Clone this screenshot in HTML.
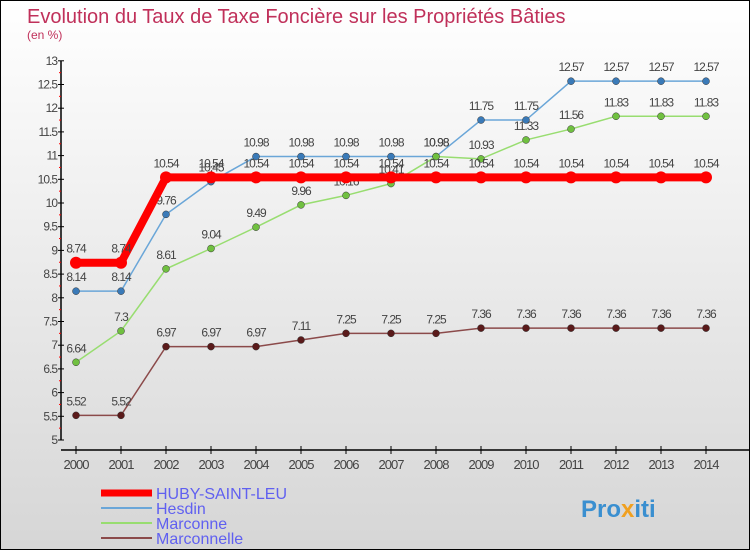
<!DOCTYPE html>
<html><head><meta charset="utf-8"><style>
html,body{margin:0;padding:0}
body{width:750px;height:550px;overflow:hidden;font-family:"Liberation Sans",sans-serif}
#wrap{position:absolute;left:0;top:0;width:748px;height:548px;border:1px solid #000;background:linear-gradient(#ffffff,#d6d6d6)}
</style></head><body>
<div id="wrap">
<svg id="chart" width="748" height="548" xmlns="http://www.w3.org/2000/svg">
<text x="26" y="22" font-size="20" fill="#c0305a">Evolution du Taux de Taxe Foncière sur les Propriétés Bâties</text>
<text x="26" y="38" font-size="12" fill="#c0305a">(en %)</text>
<g id="axes"></g><g id="series"></g><g id="legend"></g>
<text x="580" y="516" font-size="24" font-weight="bold" fill="#3a8fd0">Pro<tspan fill="#f0a020">x</tspan>iti</text>
</svg></div>
<script>
const years=[2000,2001,2002,2003,2004,2005,2006,2007,2008,2009,2010,2011,2012,2013,2014];
const yTicks=[5,5.5,6,6.5,7,7.5,8,8.5,9,9.5,10,10.5,11,11.5,12,12.5,13];
const seriesNames=["HUBY-SAINT-LEU","Hesdin","Marconne","Marconnelle"];
const huby=[8.74,8.74,10.54,10.54,10.54,10.54,10.54,10.54,10.54,10.54,10.54,10.54,10.54,10.54,10.54];
const hesdin=[8.14,8.14,9.76,10.45,10.98,10.98,10.98,10.98,10.98,11.75,11.75,12.57,12.57,12.57,12.57];
const marconne=[6.64,7.3,8.61,9.04,9.49,9.96,10.16,10.41,10.98,10.93,11.33,11.56,11.83,11.83,11.83];
const marconnelle=[5.52,5.52,6.97,6.97,6.97,7.11,7.25,7.25,7.25,7.36,7.36,7.36,7.36,7.36,7.36];
const NS="http://www.w3.org/2000/svg";
const x=i=>75+i*45;
const y=v=>439-(v-5)*47.4;
function mk(t,a,p){const e=document.createElementNS(NS,t);for(const k in a)e.setAttribute(k,a[k]);p.appendChild(e);return e;}
const ax=document.getElementById('axes');
const yl=mk('line',{x1:60,y1:y(13),x2:60,y2:y(5),stroke:'#000','stroke-width':1.5},ax);


yTicks.forEach(v=>{
  mk('line',{x1:57,y1:y(v),x2:63,y2:y(v),stroke:'#000'},ax);
  if(v<13) mk('line',{x1:58,y1:y(v+0.25),x2:60,y2:y(v+0.25),stroke:'#f00'},ax);
  const t=mk('text',{x:56,y:y(v)+4,'font-size':12,'text-anchor':'end',fill:'#444','letter-spacing':'-1'},ax);
  t.textContent=v;
  
  
});
const xl=mk('line',{x1:60,y1:449,x2:748,y2:449,stroke:'#000','stroke-width':1.5},ax);


years.forEach((yr,i)=>{
  mk('line',{x1:x(i),y1:445,x2:x(i),y2:453,stroke:'#000'},ax);
  const t=mk('text',{x:x(i),y:468,'font-size':13,'text-anchor':'middle',fill:'#444','letter-spacing':'-1'},ax);
  t.textContent=yr;
  
  
});
const sg=document.getElementById('series');
const defs=[[hesdin,'#6aa6d8','#3a7ab8',1.5,3.5],[marconne,'#98dd70','#70c040',1.5,3.5],[marconnelle,'#8b4a4a','#5a1a1a',1.5,3.5],[huby,'#f00','#f00',8,6]];
const order=[1,2,3,0];
defs.forEach((d,k)=>{
  const [vals,lc,pc,w,r]=d;
  const g=mk('g',{},sg);
  
  
  mk('polyline',{points:vals.map((v,i)=>x(i)+','+y(v)).join(' '),fill:'none',stroke:lc,'stroke-width':w},g);
  vals.forEach((v,i)=>{
    const c=mk('circle',{cx:x(i),cy:y(v),r:r,fill:pc,stroke:k==3?'none':'#333','stroke-width':0.5},g);
    
    
    const t=mk('text',{x:x(i),y:y(v)-10,'font-size':12,'text-anchor':'middle',fill:'#444','letter-spacing':'-1'},g);
    t.textContent=v;
    
    
  });
});
const lg=document.getElementById('legend');
const lcols=['#f00','#6aa6d8','#98dd70','#8b4a4a'];
seriesNames.forEach((n,k)=>{
  const yy=492+k*15;
  const g=mk('g',{},lg);
  
  
  mk('line',{x1:100,y1:yy,x2:151,y2:yy,stroke:lcols[k],'stroke-width':k==0?7:2},g);
  const t=mk('text',{x:155,y:yy+6,'font-size':16,fill:'#6060f0'},g);
  t.textContent=n;
});
</script>
</body></html>
